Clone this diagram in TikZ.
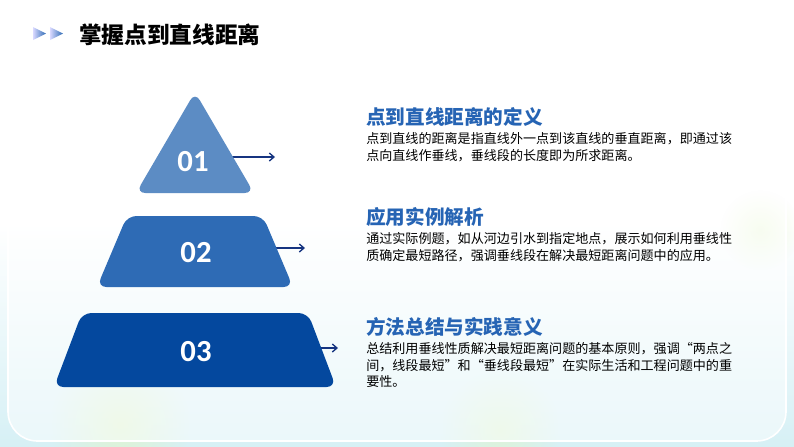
\documentclass[tikz,border=0pt]{standalone}
\usepackage{fontspec}
\setmainfont{Noto Sans CJK SC}
\newfontfamily\numfont{Carlito}
\usepackage{xcolor}
\usetikzlibrary{arrows.meta, positioning, fadings}
\definecolor{tierone}{RGB}{92,140,196}
\definecolor{tiertwo}{RGB}{46,107,181}
\definecolor{tierthree}{RGB}{4,72,158}
\definecolor{heading}{RGB}{38,100,180}
\definecolor{pointer}{RGB}{22,52,128}
\definecolor{bgcyan}{RGB}{214,240,245}
\definecolor{blobgreen}{RGB}{226,246,196}
\tikzfading[name=softblob, inner color=transparent!0, outer color=transparent!100]

\begin{document}
\begin{tikzpicture}[
    x=0.75pt, y=-0.75pt,
    tier/.style={rounded corners=7pt},
    num/.style={text=white, inner sep=0pt, font=\numfont\bfseries\fontsize{23}{23}\selectfont},
    arrow/.style={-{Straight Barb[length=3.5pt, width=6pt]}, line width=1pt, color=pointer},
    caption/.style={anchor=west, inner sep=0pt, text=heading, font=\bfseries\fontsize{14.7}{16}\selectfont},
    body/.style={anchor=north west, inner sep=0pt, align=left, font=\fontsize{9.8}{12.6}\selectfont}
]
    % Background
    \useasboundingbox (0,0) rectangle (794,447);
    \fill[top color=white, bottom color=bgcyan, middle color=white] (0,0) rectangle (794,447);
    \fill[blobgreen, opacity=0.7, path fading=softblob] (120,425) circle (70);
    \fill[blobgreen, opacity=0.6, path fading=softblob] (500,430) circle (60);
    \fill[blobgreen, opacity=0.5, path fading=softblob] (760,230) circle (40);
    \draw[white, line width=1.2pt, fill=white, fill opacity=0.5, rounded corners=22pt] (8,70) rectangle (786,441);

    % Title
    \shade[left color=blue!15, right color=tiertwo] (33,27) -- (46,33.5) -- (33,40) -- cycle;
    \shade[left color=blue!15, right color=tiertwo] (50,27) -- (63,33.5) -- (50,40) -- cycle;
    \node[anchor=west, inner sep=0pt, font=\bfseries\fontsize{17}{19}\selectfont] (title) at (79,35) {掌握点到直线距离};

    % Arrows (under the tiers)
    \coordinate (s1) at (225,157);
    \coordinate (e1) at (275,157);
    \coordinate (s2) at (268,248);
    \coordinate (e2) at (305,248);
    \coordinate (s3) at (312,348);
    \coordinate (e3) at (338,348);
    \draw[arrow] (s1) -- (e1);
    \draw[arrow] (s2) -- (e2);
    \draw[arrow] (s3) -- (e3);

    % Tiers
    \fill[tier, fill=tierone] (195,92) -- (254,193) -- (136,193) -- cycle;
    \fill[tier, fill=tiertwo] (127,216) -- (263,216) -- (293,287) -- (97,287) -- cycle;
    \fill[tier, fill=tierthree] (82,313) -- (308,313) -- (336,387) -- (54,387) -- cycle;
    \node[num] (n1) at (193,162) {01};
    \node[num] (n2) at (196,253) {02};
    \node[num] (n3) at (196,352) {03};

    % Descriptions
    \node[caption] (h1) at (366,117) {点到直线距离的定义};
    \node[body] (b1) at (366,132) {点到直线的距离是指直线外一点到该直线的垂直距离，即通过该\\点向直线作垂线，垂线段的长度即为所求距离。};
    \node[caption] (h2) at (366,217) {应用实例解析};
    \node[body] (b2) at (366,232) {通过实际例题，如从河边引水到指定地点，展示如何利用垂线性\\质确定最短路径，强调垂线段在解决最短距离问题中的应用。};
    \node[caption] (h3) at (366,327) {方法总结与实践意义};
    \node[body] (b3) at (366,342) {总结利用垂线性质解决最短距离问题的基本原则，强调“两点之\\间，线段最短”和“垂线段最短”在实际生活和工程问题中的重\\要性。};
\end{tikzpicture}
\end{document}
